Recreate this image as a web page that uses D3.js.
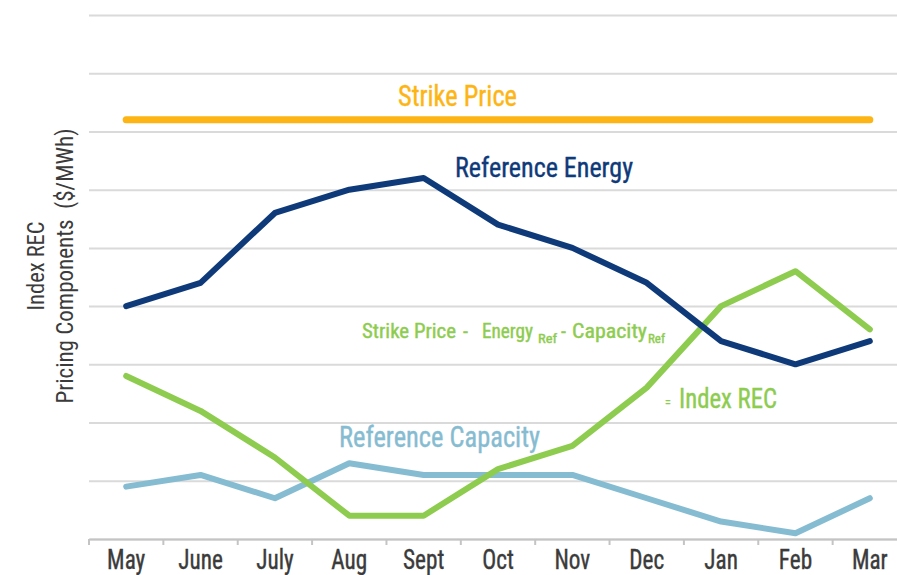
<!DOCTYPE html>
<html>
<head>
<meta charset="utf-8">
<script src="https://cdn.jsdelivr.net/npm/d3@7"></script>
<style>
    body { margin: 0; background: #fff; }
    text { font-family: "Liberation Sans Narrow", "Roboto Condensed", "DejaVu Sans Condensed", sans-serif; }
</style>
</head>
<body>
<div id="chart"></div>
<script>
// Chart values
var months = ["May", "June", "July", "Aug", "Sept", "Oct", "Nov", "Dec", "Jan", "Feb", "Mar"];
var referenceEnergy = [40, 44, 56, 60, 62, 54, 50, 44, 34, 30, 34];
var indexRec = [28, 22, 14, 4, 4, 12, 16, 26, 40, 46, 36];
var referenceCapacity = [9, 11, 7, 13, 11, 11, 11, 7, 3, 1, 7];
var strikePrice = 72;
var gridTicks = [0, 10, 20, 30, 40, 50, 60, 70, 80, 90];

var svgWidth = 897;
var svgHeight = 575;
var margin = {
    top: 15,
    bottom: 36,
    right: -10,
    left: 89
};
var height = svgHeight - margin.top - margin.bottom;
var width = svgWidth - margin.left - margin.right;

var svg = d3
    .select("#chart")
    .append("svg")
    .attr("height", svgHeight)
    .attr("width", svgWidth);

var chartGroup = svg.append("g")
    .attr("transform", `translate(${margin.left}, ${margin.top})`);

// Scales
var xBandScale = d3.scaleBand()
    .domain(months)
    .range([0, width]);
var yLinearScale = d3.scaleLinear()
    .domain([0, 90])
    .range([height, 0]);
var xMid = d => xBandScale(d) + xBandScale.bandwidth() / 2;

// Gridlines
var grid = chartGroup.append("g")
    .call(d3.axisLeft(yLinearScale).tickValues(gridTicks).tickSize(-width).tickFormat(""));
grid.select(".domain").remove();
grid.selectAll("line")
    .attr("stroke", "#dadada")
    .attr("stroke-width", 2);

// X axis (labels centred in the bands)
var xAxis = chartGroup.append("g")
    .attr("transform", `translate(0, ${height})`)
    .call(d3.axisBottom(xBandScale).tickSize(0).tickPadding(11));
xAxis.select(".domain")
    .attr("stroke", "#c4c4c4")
    .attr("stroke-width", 2);
xAxis.selectAll("text")
    .attr("font-size", 27)
    .attr("fill", "#3b3b3b")
    .attr("stroke", "#3b3b3b")
    .attr("stroke-width", 0.4)
    .each(function() {
        // the original face is narrower than ours
        var len = this.getComputedTextLength() * 0.86;
        d3.select(this).attr("textLength", len).attr("lengthAdjust", "spacingAndGlyphs");
    });

// tick marks sit on the band edges
xAxis.selectAll(".edge")
    .data(months)
    .enter()
    .append("line")
    .attr("class", "edge")
    .attr("x1", d => xBandScale(d))
    .attr("x2", d => xBandScale(d))
    .attr("y1", 0)
    .attr("y2", 6)
    .attr("stroke", "#c4c4c4")
    .attr("stroke-width", 2);

// Lines
var lineGen = d3.line()
    .x((d, i) => xMid(months[i]))
    .y(d => yLinearScale(d));

chartGroup.append("path")
    .datum(months.map(() => strikePrice))
    .attr("d", lineGen)
    .attr("fill", "none")
    .attr("stroke", "#fdb515")
    .attr("stroke-width", 7)
    .attr("stroke-linecap", "round");

var series = [
    { values: referenceCapacity, color: "#86bcd1" },
    { values: indexRec, color: "#8dcc4e" },
    { values: referenceEnergy, color: "#0f3a7a" }
];
series.forEach(function(s) {
    chartGroup.append("path")
        .datum(s.values)
        .attr("d", lineGen)
        .attr("fill", "none")
        .attr("stroke", s.color)
        .attr("stroke-width", 6)
        .attr("stroke-linejoin", "round")
        .attr("stroke-linecap", "round");
});

// Labels on the plot
function label(txt, x, y, size, color, len) {
    var t = svg.append("text")
        .text(txt)
        .attr("x", x)
        .attr("y", y)
        .attr("font-size", size)
        .attr("fill", color)
        .attr("stroke", color)
        .attr("stroke-width", 0.4);
    if (len) {
        t.attr("textLength", len).attr("lengthAdjust", "spacingAndGlyphs");
    }
    return t;
}
label("Strike Price", 398, 106, 29, "#fdb515", 119);
label("Reference Energy", 455, 177, 28, "#0f3a7a", 178);
label("Reference Capacity", 339, 447, 29, "#86bcd1", 201);

var green = "#8dcc4e";
label("Strike Price", 362, 338, 20, green, 94);
label("-", 463, 338, 20, green);
label("Energy", 482, 338, 20, green, 51);
label("Ref", 538, 343, 13, green, 19);
label("-", 561, 338, 20, green);
label("Capacity", 572, 338, 20, green, 75);
label("Ref", 648, 343, 13, green, 17);
label("=", 665, 407, 12, green);
label("Index REC", 679, 408, 28, green, 98);

// Y axis title
var yText = svg.append("g")
    .attr("transform", "translate(0, 266) rotate(-90)");
yText.append("text")
    .text("Index REC")
    .attr("x", 0)
    .attr("y", 44)
    .attr("text-anchor", "middle")
    .attr("font-size", 23)
    .attr("fill", "#3b3b3b")
    .attr("textLength", 89)
    .attr("lengthAdjust", "spacingAndGlyphs");
yText.append("text")
    .text("Pricing Components  ($/MWh)")
    .attr("x", 0)
    .attr("y", 73)
    .attr("text-anchor", "middle")
    .attr("font-size", 23)
    .attr("fill", "#3b3b3b")
    .attr("textLength", 275)
    .attr("lengthAdjust", "spacingAndGlyphs")
    .style("white-space", "pre");
</script>
</body>
</html>
